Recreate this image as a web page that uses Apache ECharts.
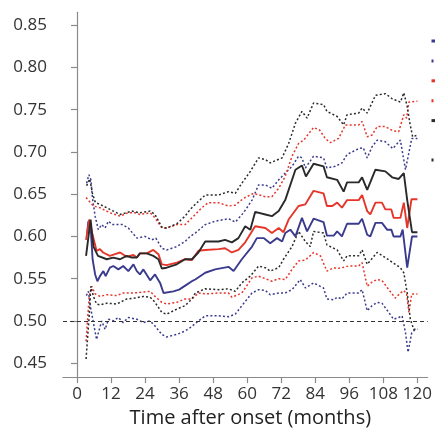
<!DOCTYPE html>
<html><head><meta charset="utf-8">
<script src="https://cdn.jsdelivr.net/npm/echarts@6/dist/echarts.min.js"></script>
<style>html,body{margin:0;padding:0;background:#fff}#c{width:435px;height:433px}</style>
</head><body><div id="c"></div>
<script>
const xTicks = [0, 12, 24, 36, 48, 60, 72, 84, 96, 108, 120];
const yTicks = [0.45, 0.50, 0.55, 0.60, 0.65, 0.70, 0.75, 0.80, 0.85];
const seriesNames = ['Group A mean', 'Group A 95% CI', 'Group B mean', 'Group B 95% CI', 'Group C mean', 'Group C 95% CI'];

const blueMean = [[3.6,0.604],[4.0,0.618],[4.8,0.612],[5.5,0.573],[6.4,0.555],[7.2,0.547],[8.1,0.553],[9.3,0.559],[10.1,0.553],[11.6,0.563],[12.8,0.565],[14.6,0.561],[16.3,0.565],[18.1,0.559],[19.9,0.567],[21.1,0.559],[22.2,0.555],[23.4,0.561],[25.8,0.548],[27.5,0.555],[29.3,0.545],[30.5,0.533],[34,0.535],[36,0.537],[38.7,0.543],[40.5,0.547],[41.7,0.549],[45.2,0.557],[48.7,0.561],[53.4,0.564],[55.2,0.559],[58.1,0.573],[61.7,0.588],[63.4,0.598],[65.8,0.598],[68.1,0.592],[70.5,0.598],[72.3,0.594],[73.4,0.604],[75.2,0.608],[77,0.600],[79.3,0.622],[81.1,0.606],[83.4,0.621],[86.9,0.617],[88.1,0.601],[90.5,0.601],[91.7,0.606],[93.4,0.600],[95.2,0.615],[99.3,0.615],[100.5,0.621],[102.3,0.602],[103.4,0.600],[105.2,0.616],[107.5,0.616],[109.3,0.608],[110.8,0.608],[111.6,0.600],[114,0.600],[114.8,0.608],[116.4,0.563],[118.1,0.600],[120,0.600]];
const blueUpper = [[3.4,0.663],[4.2,0.673],[4.9,0.667],[5.5,0.644],[6.4,0.624],[7.5,0.608],[8.7,0.614],[9.9,0.610],[11.1,0.618],[12.5,0.614],[14,0.614],[16,0.614],[18.1,0.610],[21.1,0.598],[24,0.600],[26.4,0.596],[27.8,0.598],[29.9,0.586],[31.6,0.584],[35.2,0.588],[38.1,0.594],[39.9,0.600],[41.7,0.604],[45.2,0.614],[48.7,0.618],[53.4,0.621],[55.8,0.617],[58.7,0.628],[61.7,0.643],[64,0.661],[66.4,0.661],[68.7,0.657],[71.1,0.667],[73.4,0.675],[75.8,0.683],[78.1,0.695],[79.3,0.693],[80.5,0.681],[83.4,0.695],[86.9,0.693],[88.1,0.681],[91,0.683],[93.4,0.687],[95.2,0.697],[99.3,0.704],[100.9,0.705],[102.3,0.693],[104,0.706],[105.8,0.714],[108.7,0.712],[111.3,0.704],[114,0.714],[115.8,0.679],[118,0.716],[120,0.716]];
const blueLower = [[3.3,0.530],[4.0,0.535],[4.9,0.514],[6.9,0.478],[8.7,0.500],[9.9,0.490],[11.1,0.502],[12.8,0.500],[14.6,0.504],[16.3,0.498],[18.1,0.504],[21.1,0.502],[23.4,0.498],[25.8,0.500],[27.5,0.494],[29.9,0.484],[31.6,0.481],[35.2,0.484],[38.1,0.488],[39.9,0.492],[42.8,0.500],[45.2,0.506],[49.9,0.506],[53.4,0.505],[55.8,0.508],[58.1,0.518],[61.7,0.533],[64,0.537],[66.4,0.536],[68.1,0.531],[71.1,0.533],[73.4,0.533],[75.8,0.537],[78.7,0.549],[80.5,0.539],[83.4,0.545],[86.9,0.539],[88.1,0.526],[90.5,0.525],[91.7,0.528],[93.4,0.526],[95.2,0.533],[99.3,0.533],[100.5,0.537],[102.3,0.512],[104,0.518],[105.8,0.522],[107.5,0.521],[109.9,0.510],[111.6,0.502],[113.4,0.504],[114.6,0.506],[115.8,0.486],[116.7,0.463],[118,0.486],[119.3,0.490],[120,0.490]];

const redMean = [[3.2,0.596],[4.3,0.620],[5.2,0.606],[6.9,0.583],[8.1,0.585],[9.2,0.581],[11.6,0.577],[13.4,0.579],[15.2,0.581],[17.5,0.576],[19.9,0.578],[21.1,0.575],[22.2,0.580],[24.6,0.580],[26.9,0.584],[28.7,0.579],[29.9,0.567],[31.6,0.566],[35.2,0.569],[38.1,0.573],[40.5,0.572],[42.8,0.583],[45.2,0.584],[49.9,0.585],[52.2,0.586],[54.6,0.581],[56.9,0.584],[59.3,0.593],[62.8,0.612],[66.4,0.610],[68.7,0.604],[71.1,0.610],[72.8,0.605],[74.6,0.620],[78.1,0.636],[80.5,0.638],[83.4,0.654],[86.9,0.651],[88.1,0.636],[90,0.636],[91.7,0.640],[93.4,0.634],[95.2,0.643],[99.3,0.643],[100.5,0.649],[102.3,0.630],[103.4,0.626],[105.2,0.640],[107.5,0.640],[108.7,0.632],[110.8,0.632],[111.6,0.622],[114,0.622],[115.2,0.640],[116.4,0.610],[117.9,0.644],[120,0.644]];
const redUpper = [[3.2,0.646],[5.8,0.636],[8.1,0.634],[11.6,0.628],[15.2,0.624],[18,0.628],[20.5,0.628],[22.2,0.626],[25.8,0.628],[27.5,0.622],[29.9,0.610],[31.6,0.610],[35.2,0.614],[38.1,0.614],[41.7,0.626],[44,0.634],[46.3,0.640],[49.9,0.640],[53.4,0.636],[55.8,0.637],[58.7,0.645],[62.2,0.651],[66.4,0.647],[68.7,0.647],[71.1,0.657],[73.4,0.671],[75.8,0.695],[78.1,0.710],[79.9,0.714],[80.5,0.714],[83.4,0.729],[85.5,0.726],[87.5,0.716],[89.3,0.711],[92.2,0.716],[94.6,0.732],[99.3,0.732],[100.5,0.736],[102.3,0.718],[104,0.720],[105.8,0.730],[108.7,0.730],[111.3,0.725],[113.4,0.724],[115.2,0.744],[116.2,0.740],[117,0.759],[119.3,0.760],[120,0.760]];
const redLower = [[3.2,0.476],[4.3,0.529],[5.2,0.541],[6.4,0.532],[8.1,0.529],[10.5,0.531],[14,0.530],[16.3,0.533],[19.9,0.533],[22.8,0.534],[25.8,0.535],[27.5,0.529],[29.9,0.522],[31.6,0.520],[35.2,0.522],[38.1,0.526],[40.5,0.526],[42.8,0.533],[45.2,0.532],[49.9,0.533],[53.4,0.533],[54.6,0.528],[58.1,0.533],[61.7,0.551],[64,0.553],[66.4,0.550],[68.7,0.547],[71.1,0.550],[73.4,0.549],[75.8,0.561],[78.1,0.571],[80.5,0.572],[83.4,0.581],[85.8,0.577],[88.1,0.559],[90.5,0.563],[91.7,0.562],[93.4,0.563],[95.8,0.565],[99.3,0.565],[100.5,0.569],[102.3,0.541],[104,0.546],[105.8,0.549],[107.5,0.548],[109.9,0.537],[112.2,0.527],[114,0.533],[115.2,0.536],[116.2,0.532],[117,0.510],[118,0.532],[120,0.532]];

const blackMean = [[3.2,0.577],[4.8,0.620],[5.8,0.588],[7.4,0.577],[8.1,0.575],[10.5,0.573],[12.8,0.575],[15.2,0.573],[17.5,0.577],[19.3,0.575],[21.1,0.575],[22.2,0.580],[24.6,0.580],[26.9,0.577],[28.7,0.573],[29.9,0.562],[31.6,0.563],[35.2,0.567],[38.1,0.573],[40.5,0.573],[42.8,0.581],[45.2,0.594],[49.9,0.594],[52.2,0.596],[54.6,0.593],[56.9,0.598],[59.3,0.612],[61.1,0.608],[62.8,0.629],[66.4,0.626],[68.7,0.624],[71.1,0.630],[73.4,0.643],[77,0.679],[79.3,0.684],[80.7,0.671],[83.4,0.686],[86.9,0.683],[88.1,0.670],[91.7,0.667],[94,0.653],[95.2,0.664],[99.3,0.664],[100.5,0.670],[102.3,0.655],[105.2,0.679],[108.7,0.677],[111.1,0.670],[113.4,0.668],[115.2,0.675],[116.4,0.643],[118.1,0.605],[120,0.605]];
const blackUpper = [[3.4,0.660],[4.5,0.668],[5.5,0.650],[6.5,0.640],[8.1,0.638],[11.6,0.632],[15.2,0.626],[19.3,0.630],[22,0.628],[25.8,0.630],[27.5,0.626],[29.9,0.611],[31.6,0.610],[35.2,0.615],[38.1,0.624],[39.9,0.632],[41.7,0.638],[45.2,0.649],[49.9,0.649],[53.4,0.653],[55.8,0.651],[58.1,0.663],[61.1,0.677],[64,0.693],[66.4,0.691],[68.1,0.687],[72.3,0.693],[74.6,0.710],[77,0.734],[79.3,0.748],[81.1,0.740],[83.4,0.758],[86.9,0.756],[88.1,0.748],[91.7,0.742],[94,0.732],[95.2,0.744],[99.3,0.746],[100.5,0.752],[102.3,0.746],[105.2,0.767],[108.7,0.769],[111.1,0.763],[114,0.759],[115.2,0.770],[116.4,0.754],[117.3,0.735],[118.3,0.718],[120,0.720]];
const blackLower = [[3.2,0.455],[4.3,0.506],[4.9,0.541],[5.8,0.529],[6.9,0.520],[8.1,0.519],[10.5,0.521],[14,0.520],[17.5,0.526],[20.3,0.527],[23.4,0.529],[25.8,0.528],[27.5,0.522],[29.9,0.510],[31.6,0.508],[35.2,0.514],[38.1,0.518],[40.5,0.526],[41.7,0.533],[45.2,0.538],[49.9,0.537],[53.4,0.538],[55.8,0.535],[58.1,0.545],[61.1,0.553],[64,0.565],[66.4,0.563],[68.1,0.559],[71.1,0.563],[72.8,0.573],[75.8,0.588],[78.1,0.606],[80.5,0.594],[82.2,0.588],[83.4,0.606],[86.9,0.604],[88.1,0.590],[91.7,0.584],[94,0.571],[95.2,0.577],[99.3,0.577],[100.5,0.584],[102.3,0.567],[105.8,0.581],[108.7,0.575],[111.3,0.569],[114,0.563],[115.2,0.557],[116.4,0.533],[117.5,0.502],[118.7,0.490],[120,0.490]];

const BLUE = '#3b3b8e', RED = '#e5362b', BLACK = '#2a2a2a';
const DOT = [2, 2.2];

function solid(name, data, color) {
  return { name, type: 'line', data, symbol: 'none', z: 3,
    lineStyle: { color, width: 1.9, type: 'solid' }, itemStyle: { color } };
}
function ci(name, data, color, id) {
  return { name, id, type: 'line', data, symbol: 'none', z: 2,
    lineStyle: { color, width: 1.5, type: DOT }, itemStyle: { color } };
}

const series = [
  solid(seriesNames[0], blueMean, BLUE),
  ci(seriesNames[1], blueUpper, BLUE, 'bu'),
  ci(seriesNames[1], blueLower, BLUE, 'bl'),
  solid(seriesNames[2], redMean, RED),
  ci(seriesNames[3], redUpper, RED, 'ru'),
  ci(seriesNames[3], redLower, RED, 'rl'),
  solid(seriesNames[4], blackMean, BLACK),
  ci(seriesNames[5], blackUpper, BLACK, 'ku'),
  ci(seriesNames[5], blackLower, BLACK, 'kl')
];
series[0].markLine = {
  silent: true, symbol: ['none', 'none'], label: { show: false },
  lineStyle: { color: '#333', type: [4, 3], width: 1 },
  data: [{ yAxis: 0.5 }]
};

const chart = echarts.init(document.getElementById('c'));
const axisCol = '#8a8a8a';
const legendCommon = { orient: 'vertical', left: 430, padding: 0, itemWidth: 25, itemHeight: 14,
  formatter: () => '', lineStyle: { width: 3 }, selectedMode: false };
chart.setOption({
  animation: false,
  backgroundColor: '#fff',
  grid: { left: 63, right: 7, top: 12.3, bottom: 54.7 },
  legend: [
    Object.assign({}, legendCommon, { top: 34, itemGap: 7.3, data: seriesNames.slice(0, 5) }),
    Object.assign({}, legendCommon, { top: 153, data: seriesNames.slice(5) })
  ],
  xAxis: {
    type: 'value', min: -4.93, max: 123.6,
    axisLine: { lineStyle: { color: axisCol, width: 1.2 } },
    axisTick: { show: true, length: 6, lineStyle: { color: axisCol, width: 1.2 }, customValues: xTicks },
    axisLabel: { customValues: xTicks, color: '#333', fontSize: 17, fontFamily: 'Open Sans', margin: 9 },
    splitLine: { show: false },
    name: 'Time after onset (months)', nameLocation: 'middle', nameGap: 30,
    nameTextStyle: { color: '#222', fontSize: 20, fontFamily: 'Open Sans', padding: [0, 0, 0, 10] }
  },
  yAxis: {
    type: 'value', min: 0.4335, max: 0.8653,
    axisLine: { show: true, lineStyle: { color: axisCol, width: 1.2 } },
    axisTick: { show: true, length: 6, lineStyle: { color: axisCol, width: 1.2 }, customValues: yTicks },
    axisLabel: { customValues: yTicks, color: '#333', fontSize: 17, fontFamily: 'Open Sans', margin: 16,
      formatter: v => v.toFixed(2) },
    splitLine: { show: false }
  },
  series
});
</script></body></html>
